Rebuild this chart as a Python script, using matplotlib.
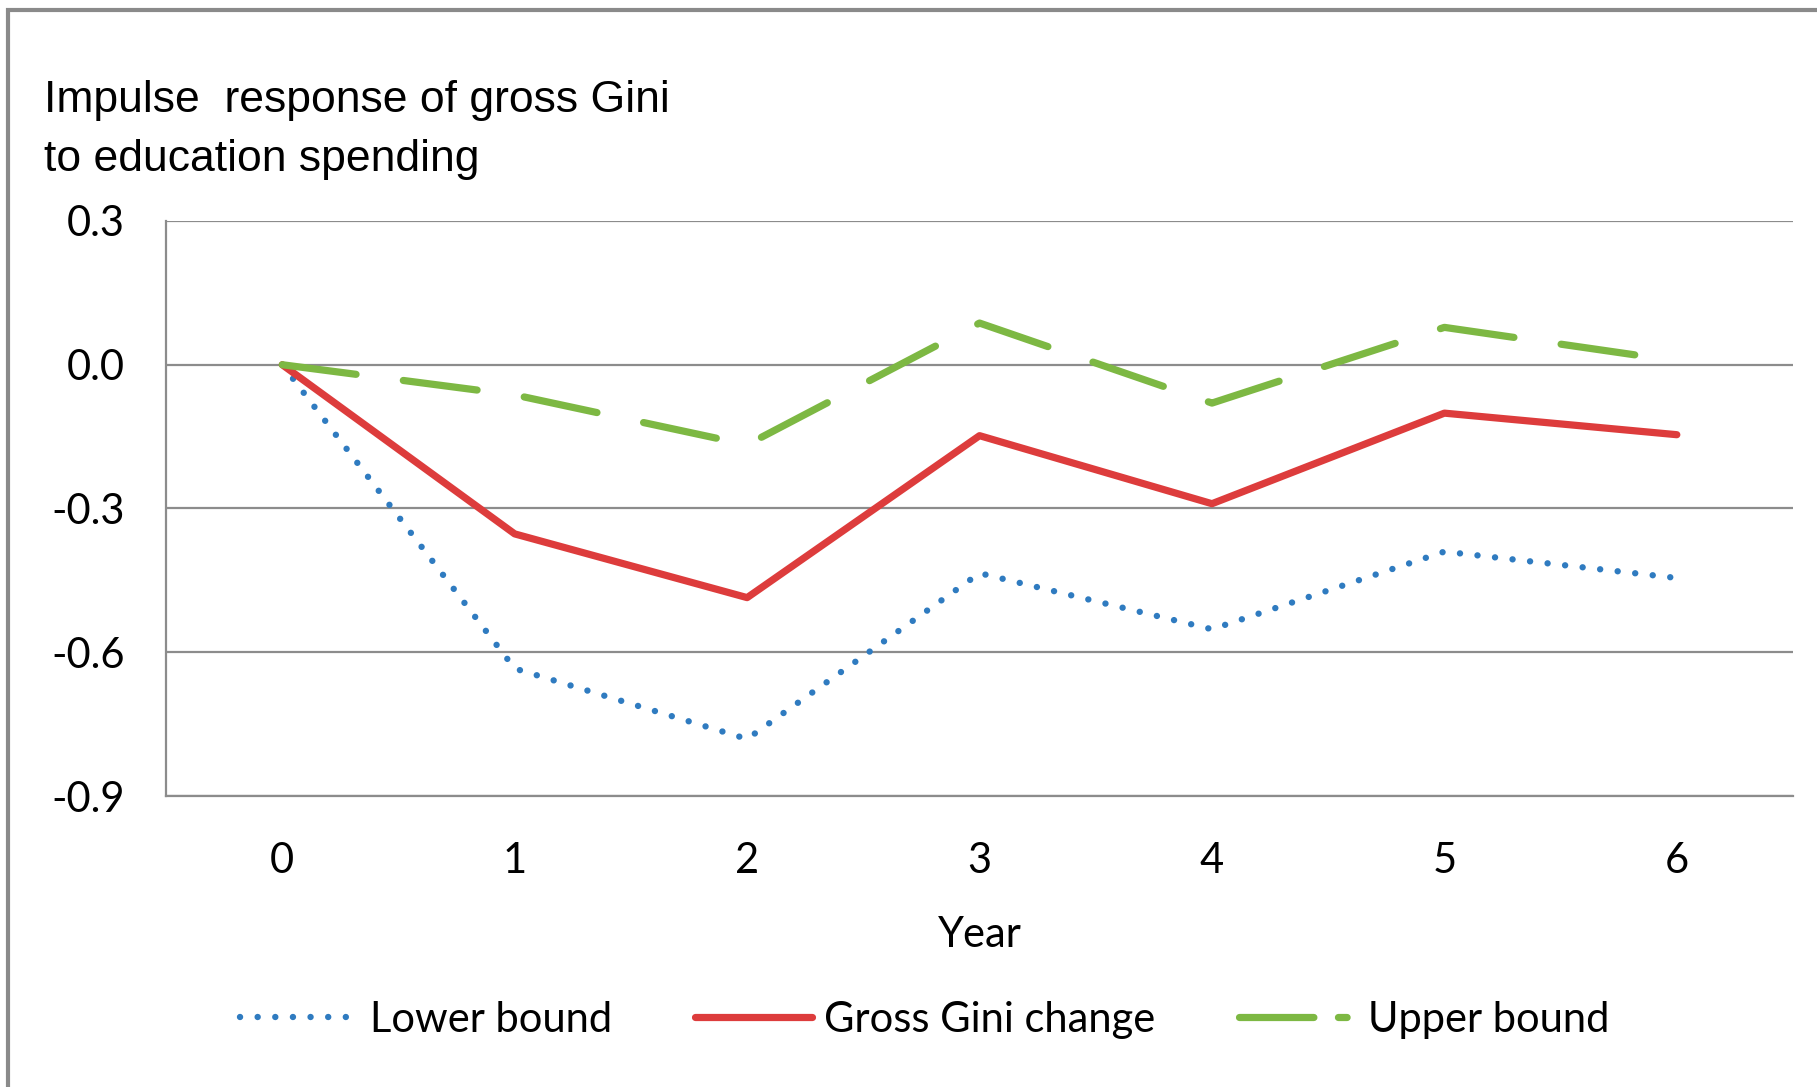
import numpy as np
import matplotlib
matplotlib.use("Agg")
import matplotlib.pyplot as plt
from matplotlib.patches import Rectangle

# data
years = [0, 1, 2, 3, 4, 5, 6]
lower_bound = [0.0, -0.634, -0.781, -0.435, -0.552, -0.39, -0.445]
gini_change = [0.0, -0.353, -0.486, -0.148, -0.29, -0.101, -0.146]
upper_bound = [0.0, -0.063, -0.167, 0.087, -0.08, 0.078, 0.008]
y_ticks = [0.3, 0.0, -0.3, -0.6, -0.9]

tick_font = "Lato"
title_font = "Liberation Sans"
grid_col = "#8c8c8c"
fs = 30

fig = plt.figure(figsize=(18.17, 10.87), dpi=100)
ax = fig.add_axes([0.0914, 0.2677, 0.8954, 0.529])

ax.plot(years, lower_bound, color="#2f7bc0", lw=4.6, linestyle=(0, (0.01, 2.75)),
        dash_capstyle="round", label="Lower bound", zorder=3)
ax.plot(years, gini_change, color="#dd3c3c", lw=5.2, solid_capstyle="round",
        label="Gross Gini change", zorder=3)
ax.plot(years, upper_bound, color="#7db843", lw=5.2, linestyle=(0, (10.3, 6.6)),
        dash_capstyle="round", label="Upper bound", zorder=3)

ax.set_xlim(-0.5, 6.5)
ax.set_ylim(-0.9, 0.3)
ax.set_yticks(y_ticks)
ax.set_yticklabels(["%.1f" % v for v in y_ticks])
ax.set_xticks(years)
ax.tick_params(length=0, labelsize=fs)
ax.tick_params(axis="y", pad=30)
ax.tick_params(axis="x", pad=33)
for lab in ax.get_xticklabels() + ax.get_yticklabels():
    lab.set_fontfamily(tick_font)

ax.grid(axis="y", color=grid_col, lw=1.6)
ax.set_axisbelow(True)
for s in ["top", "right"]:
    ax.spines[s].set_visible(False)
for s in ["left", "bottom"]:
    ax.spines[s].set_color(grid_col)
    ax.spines[s].set_linewidth(1.6)

ax.set_xlabel("Year", fontsize=fs, fontfamily=tick_font, labelpad=26)

fig.text(0.024, 0.897, "Impulse  response of gross Gini", fontsize=32,
         fontfamily=title_font, va="baseline", ha="left")
fig.text(0.024, 0.843, "to education spending", fontsize=32,
         fontfamily=title_font, va="baseline", ha="left")

leg = fig.legend(loc="center", bbox_to_anchor=(0.509, 0.0616), ncol=3,
                 frameon=False, handlelength=2.8, handletextpad=0.3,
                 columnspacing=2.0, prop={"family": tick_font, "size": fs})
# legend swatch for the dashed line shows a long dash and a short one
leg.get_lines()[2].set_dashes((10.3, 3.4, 1.2, 10))

# outer chart frame
fig.patches.append(Rectangle((8 / 1817, -0.01), 1.0, 1 - 10 / 1087 + 0.01,
                             transform=fig.transFigure, fill=False,
                             edgecolor="#8a8a8a", lw=3))

fig.savefig("out.png", dpi=100)
